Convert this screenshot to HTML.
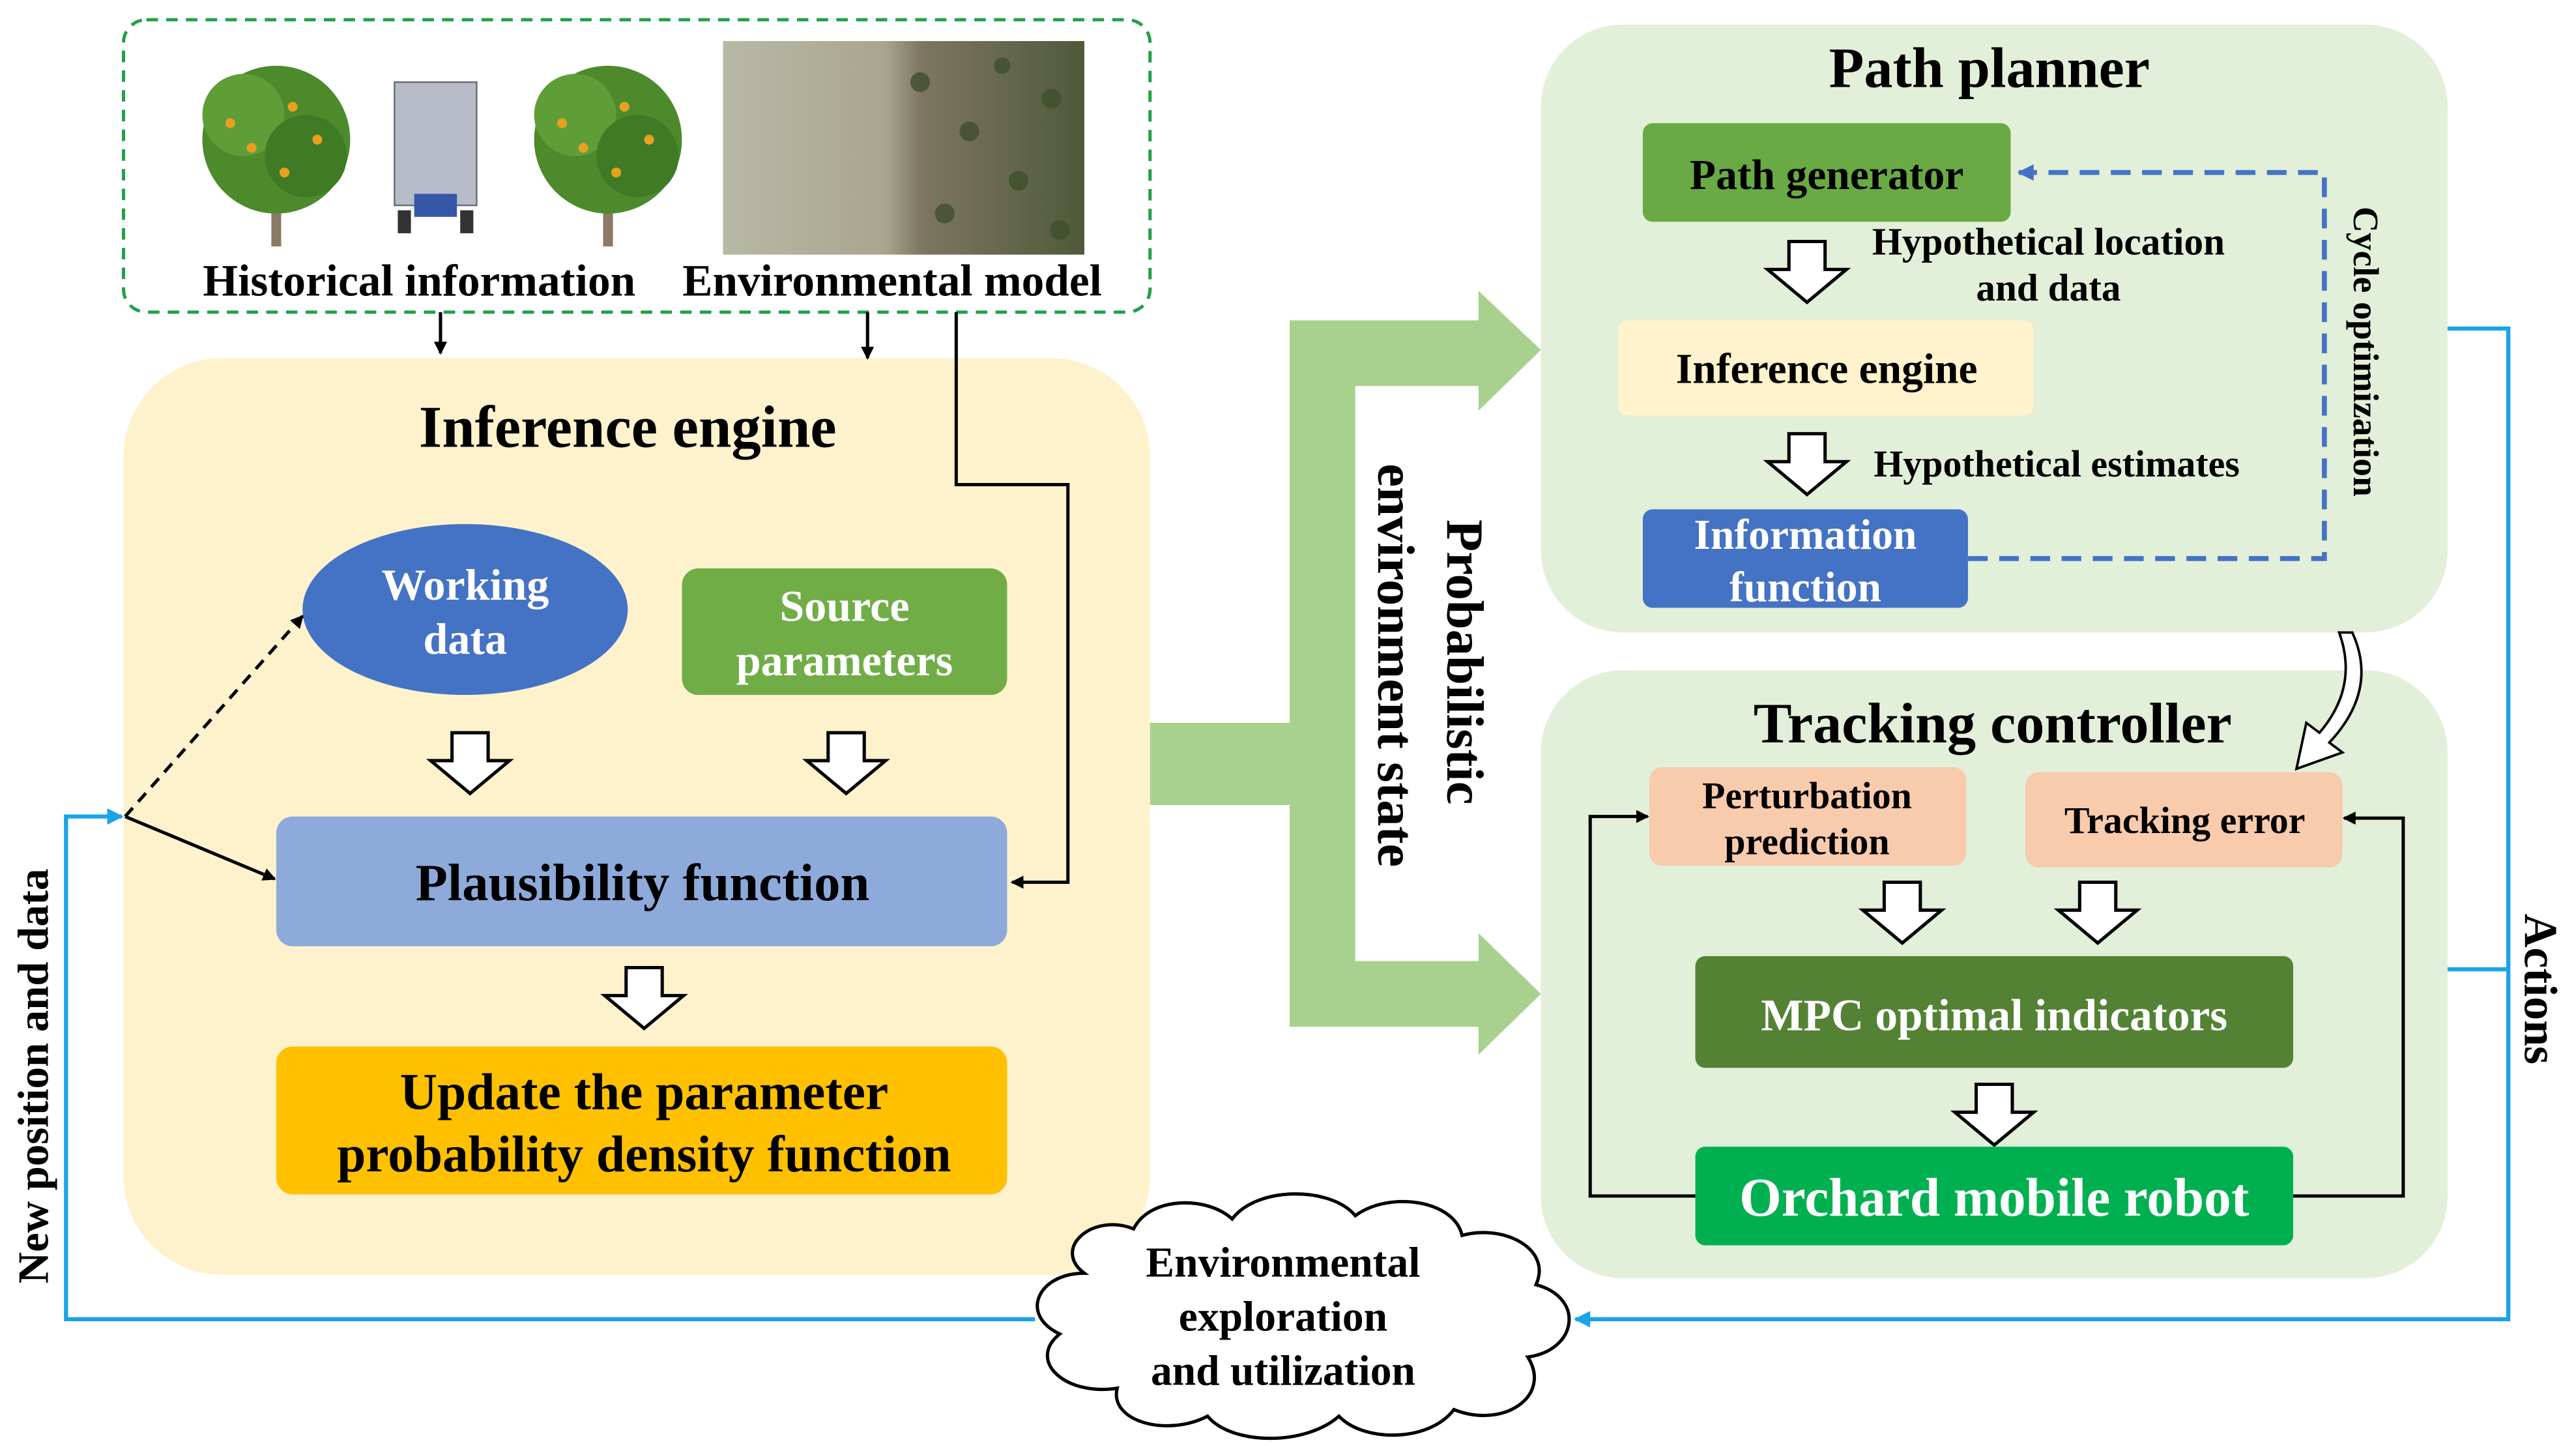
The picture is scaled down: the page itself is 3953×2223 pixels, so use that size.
<!DOCTYPE html>
<html><head><meta charset="utf-8"><style>
html,body{margin:0;padding:0;background:#fff}
svg{display:block}
text{font-family:"Liberation Serif",serif;font-weight:bold}
</style></head><body>
<svg width="3953" height="2223" viewBox="0 0 1568 882" xmlns="http://www.w3.org/2000/svg">
<defs>
<marker id="ab" markerWidth="8" markerHeight="8" refX="7" refY="4" orient="auto" markerUnits="userSpaceOnUse"><path d="M0,0 L8,4 L0,8 z" fill="#000"/></marker>
<marker id="ac" markerWidth="10" markerHeight="10" refX="9" refY="5" orient="auto" markerUnits="userSpaceOnUse"><path d="M0,0 L10,5 L0,10 z" fill="#1aa3e8"/></marker>
<marker id="ad" markerWidth="10" markerHeight="10" refX="9" refY="5" orient="auto" markerUnits="userSpaceOnUse"><path d="M0,0 L10,5 L0,10 z" fill="#4472c4"/></marker>
<linearGradient id="aer" x1="0" x2="1"><stop offset="0" stop-color="#b7b9a6"/><stop offset="0.45" stop-color="#a9a58e"/><stop offset="0.55" stop-color="#7d7660"/><stop offset="1" stop-color="#4f5a3a"/></linearGradient>
<g id="ha"><polygon points="-11,-17 11,-17 11,0 24,0 0,20 -24,0 -11,0" fill="#fff" stroke="#000" stroke-width="2"/></g>
<g id="tree"><rect x="-3" y="0" width="6" height="60" fill="#8a7a66"/><circle cx="0" cy="-5" r="45" fill="#4d8a2c"/><circle cx="-20" cy="-20" r="25" fill="#5f9e36"/><circle cx="18" cy="5" r="25" fill="#3f7a25"/><circle cx="-15" cy="0" r="3" fill="#e8a020"/><circle cx="10" cy="-25" r="3" fill="#e8a020"/><circle cx="25" cy="-5" r="3" fill="#e8a020"/><circle cx="-28" cy="-15" r="3" fill="#e8a020"/><circle cx="5" cy="15" r="3" fill="#e8a020"/></g>
</defs>

<rect x="75" y="12" width="625" height="178" rx="14" fill="none" stroke="#22a04a" stroke-width="2" stroke-dasharray="7,5"/>
<use href="#tree" x="168" y="90"/>
<use href="#tree" x="370" y="90"/>
<rect x="240" y="50" width="50" height="75" fill="#b8bcc8" stroke="#6a6e7a"/>
<rect x="252" y="118" width="26" height="14" fill="#3557a8"/>
<rect x="242" y="128" width="8" height="14" fill="#333"/><rect x="280" y="128" width="8" height="14" fill="#333"/>
<rect x="440" y="25" width="220" height="130" fill="url(#aer)"/>
<g fill="#3f4f2c" opacity="0.8"><circle cx="560" cy="50" r="6"/><circle cx="590" cy="80" r="6"/><circle cx="620" cy="110" r="6"/><circle cx="640" cy="60" r="6"/><circle cx="575" cy="130" r="6"/><circle cx="610" cy="40" r="5"/><circle cx="645" cy="140" r="6"/></g>
<text x="255" y="180" font-size="27.5" text-anchor="middle">Historical information</text>
<text x="543" y="180" font-size="27.5" text-anchor="middle">Environmental model</text>

<rect x="75" y="218" width="625" height="558" rx="60" fill="#fef2cd"/>
<text x="382" y="272" font-size="36" text-anchor="middle">Inference engine</text>
<line x1="268" y1="190" x2="268" y2="215" stroke="#000" stroke-width="2" marker-end="url(#ab)"/>
<line x1="528" y1="190" x2="528" y2="218" stroke="#000" stroke-width="2" marker-end="url(#ab)"/>
<polyline points="582,190 582,295 650,295 650,537 616,537" fill="none" stroke="#000" stroke-width="2" marker-end="url(#ab)"/>
<ellipse cx="283" cy="371" rx="99" ry="52" fill="#4472c4"/>
<text x="283" y="365" font-size="27" fill="#fff" text-anchor="middle">Working</text>
<text x="283" y="398" font-size="27" fill="#fff" text-anchor="middle">data</text>
<rect x="415" y="346" width="198" height="77" rx="10" fill="#70ad47"/>
<text x="514" y="378" font-size="27" fill="#fff" text-anchor="middle">Source</text>
<text x="514" y="411" font-size="27" fill="#fff" text-anchor="middle">parameters</text>
<use href="#ha" x="286" y="463"/>
<use href="#ha" x="515" y="463"/>
<rect x="168" y="497" width="445" height="79" rx="10" fill="#8eaadb"/>
<text x="391" y="548" font-size="32" text-anchor="middle">Plausibility function</text>
<use href="#ha" x="392" y="606"/>
<rect x="168" y="637" width="445" height="90" rx="10" fill="#ffc000"/>
<text x="392" y="675" font-size="31.5" text-anchor="middle">Update the parameter</text>
<text x="392" y="713" font-size="31.5" text-anchor="middle">probability density function</text>
<line x1="76" y1="497" x2="184" y2="375" stroke="#000" stroke-width="2" stroke-dasharray="7,5" marker-end="url(#ab)"/>
<line x1="76" y1="497" x2="167" y2="535" stroke="#000" stroke-width="2" marker-end="url(#ab)"/>
<polyline points="630,803 40,803 40,497 74,497" fill="none" stroke="#1aa3e8" stroke-width="2.5" marker-end="url(#ac)"/>
<text transform="translate(29,655) rotate(-90)" font-size="26.5" text-anchor="middle">New position and data</text>

<path d="M700,440 L785,440 L785,195 L900,195 L900,177 L938,213 L900,250 L900,235 L825,235 L825,585 L900,585 L900,568 L938,605 L900,642 L900,625 L785,625 L785,490 L700,490 Z" fill="#a9d18e"/>
<rect x="825" y="235" width="75" height="350" fill="#fff"/>
<text transform="translate(881,403) rotate(90)" font-size="32" text-anchor="middle">Probabilistic</text>
<text transform="translate(839,405) rotate(90)" font-size="32" text-anchor="middle">environment state</text>

<rect x="938" y="15" width="552" height="370" rx="50" fill="#e2efd9"/>
<text x="1211" y="53" font-size="35" text-anchor="middle">Path planner</text>
<rect x="1000" y="75" width="224" height="60" rx="6" fill="#6aaa45"/>
<text x="1112" y="115" font-size="26" text-anchor="middle">Path generator</text>
<use href="#ha" x="1100" y="164"/>
<text x="1247" y="155" font-size="23.5" text-anchor="middle">Hypothetical location</text>
<text x="1247" y="183" font-size="23.5" text-anchor="middle">and data</text>
<rect x="985" y="195" width="253" height="58" rx="6" fill="#fff2cc"/>
<text x="1112" y="233" font-size="26" text-anchor="middle">Inference engine</text>
<use href="#ha" x="1100" y="281"/>
<text x="1252" y="290" font-size="23" text-anchor="middle">Hypothetical estimates</text>
<rect x="1000" y="310" width="198" height="60" rx="6" fill="#4472c4"/>
<text x="1099" y="334" font-size="26" fill="#fff" text-anchor="middle">Information</text>
<text x="1099" y="366" font-size="26" fill="#fff" text-anchor="middle">function</text>
<polyline points="1198,340 1415,340 1415,105 1229,105" fill="none" stroke="#4472c4" stroke-width="3" stroke-dasharray="12,7" marker-end="url(#ad)"/>
<text transform="translate(1433,214) rotate(90)" font-size="22" text-anchor="middle">Cycle optimization</text>

<rect x="938" y="408" width="552" height="370" rx="50" fill="#e2efd9"/>
<text x="1213" y="452" font-size="35" text-anchor="middle">Tracking controller</text>
<path d="M1432,385 Q1448,420 1418,452 L1426,458 L1398,468 L1404,440 L1412,446 Q1436,418 1424,385 Z" fill="#fff" stroke="#000" stroke-width="1.5"/>
<rect x="1004" y="467" width="193" height="60" rx="8" fill="#f8cbad"/>
<text x="1100" y="492" font-size="23" text-anchor="middle">Perturbation</text>
<text x="1100" y="520" font-size="23" text-anchor="middle">prediction</text>
<rect x="1233" y="470" width="193" height="58" rx="8" fill="#f8cbad"/>
<text x="1330" y="507" font-size="23" text-anchor="middle">Tracking error</text>
<use href="#ha" x="1158" y="554"/>
<use href="#ha" x="1277" y="554"/>
<rect x="1032" y="582" width="364" height="68" rx="6" fill="#548235"/>
<text x="1214" y="627" font-size="27.5" fill="#fff" text-anchor="middle">MPC optimal indicators</text>
<use href="#ha" x="1214" y="677"/>
<rect x="1032" y="698" width="364" height="60" rx="6" fill="#00b050"/>
<text x="1214" y="740" font-size="33" fill="#fff" text-anchor="middle">Orchard mobile robot</text>
<polyline points="1032,728 968,728 968,497 1003,497" fill="none" stroke="#000" stroke-width="2" marker-end="url(#ab)"/>
<polyline points="1396,728 1463,728 1463,498 1427,498" fill="none" stroke="#000" stroke-width="2" marker-end="url(#ab)"/>

<polyline points="1490,200 1527,200 1527,803 959,803" fill="none" stroke="#1aa3e8" stroke-width="2.5" marker-end="url(#ac)"/>
<line x1="1490" y1="590" x2="1527" y2="590" stroke="#1aa3e8" stroke-width="2.5"/>
<text transform="translate(1537,602) rotate(90)" font-size="28.5" text-anchor="middle">Actions</text>

<path d="M660,775 C640,760 665,738 690,748 C700,728 735,728 750,742 C765,722 810,722 825,740 C845,725 885,730 890,752 C915,745 945,760 935,782 C965,790 960,822 930,826 C945,850 915,870 885,858 C870,878 830,878 815,862 C795,880 750,880 735,862 C710,875 675,865 680,845 C648,850 625,828 645,812 C620,800 632,775 660,775 Z" fill="#fff" stroke="#000" stroke-width="2"/>
<text x="781" y="777" font-size="26" text-anchor="middle">Environmental</text>
<text x="781" y="810" font-size="26" text-anchor="middle">exploration</text>
<text x="781" y="843" font-size="26" text-anchor="middle">and utilization</text>
</svg>
</body></html>
